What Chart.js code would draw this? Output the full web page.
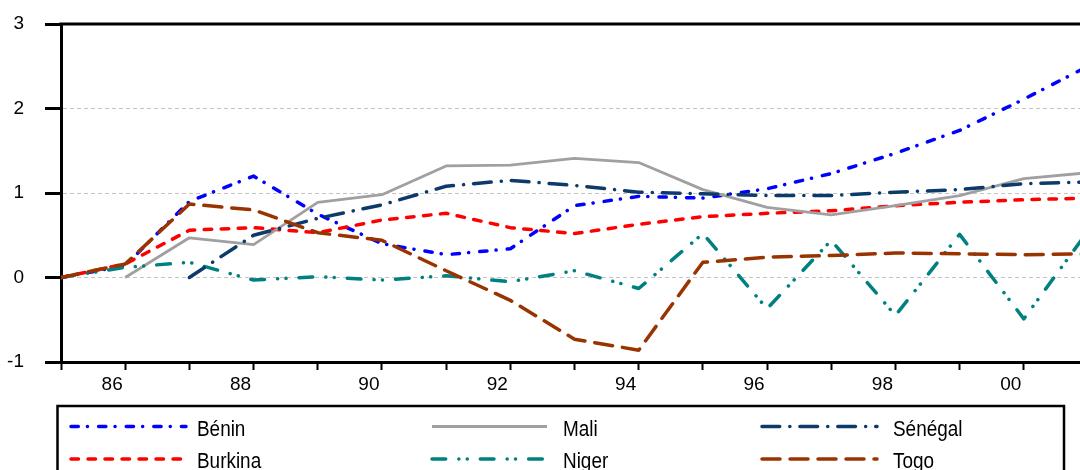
<!DOCTYPE html>
<html>
<head>
<meta charset="utf-8">
<script src="https://cdn.jsdelivr.net/npm/chart.js@4.4.1/dist/chart.umd.min.js"></script>
<style>
  html, body { margin: 0; padding: 0; background: #fff; overflow: hidden; }
  #wrap { position: relative; width: 1100px; height: 470px; }
</style>
</head>
<body>
<div id="wrap"><canvas id="c" width="1100" height="470"></canvas></div>
<script>
// Years 1985-2001 (two-digit labels on the axis)
const years   = [85, 86, 87, 88, 89, 90, 91, 92, 93, 94, 95, 96, 97, 98, 99, 100, 101];
const benin   = [0, 0.14, 0.90, 1.20, 0.75, 0.40, 0.27, 0.34, 0.85, 0.96, 0.94, 1.05, 1.23, 1.47, 1.74, 2.11, 2.50];
const burkina = [0, 0.16, 0.56, 0.59, 0.53, 0.68, 0.76, 0.59, 0.52, 0.63, 0.72, 0.76, 0.79, 0.85, 0.89, 0.92, 0.94];
const mali    = [null, 0, 0.47, 0.39, 0.89, 0.98, 1.32, 1.33, 1.41, 1.36, 1.04, 0.83, 0.74, 0.85, 0.97, 1.17, 1.24];
const niger   = [0, 0.12, 0.18, -0.03, 0.01, -0.03, 0.02, -0.05, 0.08, -0.13, 0.52, -0.37, 0.44, -0.45, 0.51, -0.49, 0.55];
const senegal = [null, null, 0, 0.50, 0.70, 0.86, 1.08, 1.15, 1.09, 1.01, 0.99, 0.97, 0.97, 1.01, 1.04, 1.11, 1.13];
const togo    = [0, 0.16, 0.87, 0.80, 0.53, 0.44, 0.08, -0.27, -0.73, -0.86, 0.18, 0.24, 0.26, 0.29, 0.28, 0.27, 0.28];

const seriesNames = ['Bénin', 'Burkina', 'Mali', 'Niger', 'Sénégal', 'Togo'];
const yTicks = [-1, 0, 1, 2, 3];

const seriesValues = [benin, burkina, mali, niger, senegal, togo];
const styles = [
  { color: '#0000ff', width: 3.5, dash: [7.3, 9.1, 0.1, 11.1] },
  { color: '#ff0000', width: 3.5, dash: [7.5, 9.5] },
  { color: '#a0a0a0', width: 2.8, dash: [] },
  { color: '#008080', width: 3.5, dash: [13.7, 13.1, 0.1, 8.3, 0.1, 13] },
  { color: '#0b3a6b', width: 3.5, dash: [17.7, 10.1, 0.1, 10] },
  { color: '#993300', width: 3.5, dash: [18, 10] }
];

const FONT = "'Liberation Sans', Arial, sans-serif";

const datasets = seriesNames.map((name, i) => ({
  label: name,
  data: years.map((yr, k) => ({ x: yr, y: seriesValues[i][k] })),
  borderColor: styles[i].color,
  borderWidth: styles[i].width,
  borderDash: styles[i].dash,
  borderCapStyle: styles[i].dash.length ? 'round' : 'butt',
  borderJoinStyle: 'round',
  pointRadius: 0,
  tension: 0,
  fill: false,
  order: seriesNames.length - i
}));

// Top and right edges of the plot frame
const framePlugin = {
  id: 'frame',
  afterDatasetsDraw(chart) {
    const { ctx, chartArea: a } = chart;
    ctx.save();
    ctx.strokeStyle = '#000';
    ctx.lineWidth = 3;
    ctx.setLineDash([]);
    ctx.beginPath();
    ctx.moveTo(a.left - 1.5, a.top);
    ctx.lineTo(a.right, a.top);
    ctx.lineTo(a.right, a.bottom);
    ctx.stroke();
    ctx.restore();
  }
};

// Boxed legend, three columns of two entries
const legendPlugin = {
  id: 'boxLegend',
  afterDraw(chart) {
    const { ctx } = chart;
    const colX = [71, 432, 762];
    const rowLineY = [426.5, 459];
    const rowTextY = [435.5, 467.5];
    const lineLen = 115;
    ctx.save();
    ctx.strokeStyle = '#000';
    ctx.lineWidth = 2.5;
    ctx.setLineDash([]);
    ctx.strokeRect(57.5, 406, 1006.5, 100);
    seriesNames.forEach((name, i) => {
      const col = Math.floor(i / 2), row = i % 2;
      const x0 = colX[col];
      const st = styles[i];
      ctx.save();
      ctx.strokeStyle = st.color;
      ctx.lineWidth = st.width;
      ctx.lineCap = st.dash.length ? 'round' : 'butt';
      ctx.setLineDash(st.dash);
      ctx.beginPath();
      ctx.moveTo(x0, rowLineY[row]);
      ctx.lineTo(x0 + lineLen, rowLineY[row]);
      ctx.stroke();
      ctx.restore();
      ctx.save();
      ctx.fillStyle = '#000';
      ctx.font = '22px ' + FONT;
      ctx.textAlign = 'left';
      ctx.textBaseline = 'alphabetic';
      ctx.translate(colX[col] + (col === 0 ? 126 : 131), rowTextY[row]);
      ctx.scale(0.86, 1);
      ctx.fillText(name, 0, 0);
      ctx.restore();
    });
    ctx.restore();
  }
};

// Keep the plot area fixed: no extra room reserved for edge labels
function clearScalePadding(scale) {
  scale.paddingTop = 0;
  scale.paddingBottom = 0;
  scale.paddingLeft = 0;
  scale.paddingRight = 0;
}

new Chart(document.getElementById('c'), {
  type: 'line',
  data: { datasets },
  options: {
    responsive: false,
    animation: false,
    devicePixelRatio: 1,
    layout: { padding: { top: 24, right: 12, left: 0, bottom: 0 } },
    plugins: { legend: { display: false }, tooltip: { enabled: false } },
    scales: {
      x: {
        type: 'linear',
        min: years[0],
        max: years[years.length - 1],
        afterFit(scale) { scale.height = 108; clearScalePadding(scale); },
        ticks: {
          stepSize: 1,
          autoSkip: false,
          maxRotation: 0,
          padding: 3,
          labelOffset: -13,
          color: '#000',
          font: { family: FONT, size: 19 },
          callback: v => (v % 2 === 0 ? String(v % 100).padStart(2, '0') : '')
        },
        grid: { drawOnChartArea: false, tickLength: 8, tickWidth: 2, tickColor: '#000' },
        border: { color: '#000', width: 3 }
      },
      y: {
        min: yTicks[0],
        max: yTicks[yTicks.length - 1],
        afterFit(scale) { scale.width = 61; clearScalePadding(scale); },
        afterBuildTicks(scale) { scale.ticks = yTicks.map(v => ({ value: v })); },
        ticks: {
          padding: 21,
          color: '#000',
          font: { family: FONT, size: 19 },
          callback: v => String(v)
        },
        grid: {
          color: c => (c.tick && (c.tick.value === yTicks[0] || c.tick.value === yTicks[yTicks.length - 1])) ? 'rgba(0,0,0,0)' : '#c4c4c4',
          lineWidth: 1,
          tickLength: 16,
          tickWidth: 3,
          tickColor: '#000'
        },
        border: { color: '#000', width: 3, dash: [4, 3] }
      }
    }
  },
  plugins: [framePlugin, legendPlugin]
});
</script>
</body>
</html>
